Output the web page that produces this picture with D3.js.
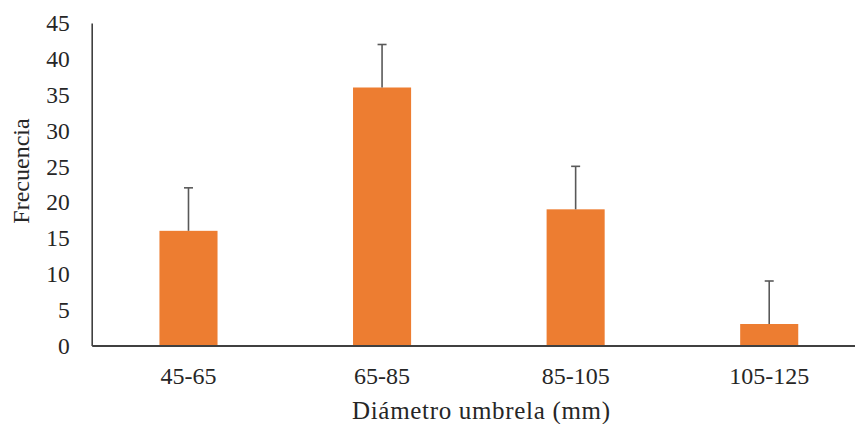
<!DOCTYPE html>
<html>
<head>
<meta charset="utf-8">
<script src="https://cdn.jsdelivr.net/npm/d3@7"></script>
<style>
  html, body { margin: 0; padding: 0; background: #fff; }
  svg { display: block; }
</style>
</head>
<body>
<svg id="chart" width="855" height="424"></svg>
<script>
const categories = ["45-65", "65-85", "85-105", "105-125"];
const frecuencia = [16, 36, 19, 3];
const errorPlus = [6, 6, 6, 6];
const yTicks = [0, 5, 10, 15, 20, 25, 30, 35, 40, 45];
const xTitle = "Diámetro umbrela (mm)";
const yTitle = "Frecuencia";

(function () {
const FONT = "'Liberation Serif', 'DejaVu Serif', serif";
const svg = d3.select("#chart");
const mLeft = 91.7, mRight = 866, mTop = 23, mBottom = 345.5;

const x = d3.scaleBand().domain(categories).range([mLeft, mRight]).paddingInner(0.7).paddingOuter(0.35);
const y = d3.scaleLinear().domain([0, 45]).range([mBottom, mTop]);

// bars
svg.append("g").selectAll("rect").data(categories).join("rect")
  .attr("x", d => x(d))
  .attr("width", x.bandwidth())
  .attr("y", (d, i) => y(frecuencia[i]))
  .attr("height", (d, i) => y(0) - y(frecuencia[i]))
  .attr("fill", "#ED7D31");

// error bars
const eb = svg.append("g").attr("stroke", "#595959").attr("stroke-width", 1.6);
categories.forEach((c, i) => {
  const cx = x(c) + x.bandwidth() / 2;
  eb.append("line").attr("x1", cx).attr("x2", cx)
    .attr("y1", y(frecuencia[i])).attr("y2", y(frecuencia[i] + errorPlus[i]));
  eb.append("line").attr("x1", cx - 4.5).attr("x2", cx + 4.5)
    .attr("y1", y(frecuencia[i] + errorPlus[i])).attr("y2", y(frecuencia[i] + errorPlus[i]));
});

// y axis
const yAxis = d3.axisLeft(y).tickValues(yTicks).tickSize(0).tickPadding(22);
const gy = svg.append("g").attr("transform", `translate(${mLeft},0)`).call(yAxis)
  .attr("font-family", FONT).attr("font-size", 23.5);
gy.select(".domain").attr("stroke", "#404040").attr("stroke-width", 1.6);
gy.selectAll("text").attr("fill", "#262626").attr("dy", "0.33em");

// x axis
const xAxis = d3.axisBottom(x).tickSize(0).tickPadding(21);
const gx = svg.append("g").attr("transform", `translate(0,${mBottom})`).call(xAxis)
  .attr("font-family", FONT).attr("font-size", 24);
gx.select(".domain").attr("stroke", "#404040").attr("stroke-width", 1.8);
gx.selectAll("text").attr("fill", "#262626");

// titles
svg.append("text").attr("x", 481).attr("y", 419).attr("text-anchor", "middle")
  .attr("font-family", FONT).attr("font-size", 25).attr("fill", "#262626")
  .attr("textLength", 258).attr("lengthAdjust", "spacing").text(xTitle);
svg.append("text").attr("transform", "translate(29,171) rotate(-90)").attr("text-anchor", "middle")
  .attr("font-family", FONT).attr("font-size", 24).attr("fill", "#262626").text(yTitle);
})();
</script>
</body>
</html>
